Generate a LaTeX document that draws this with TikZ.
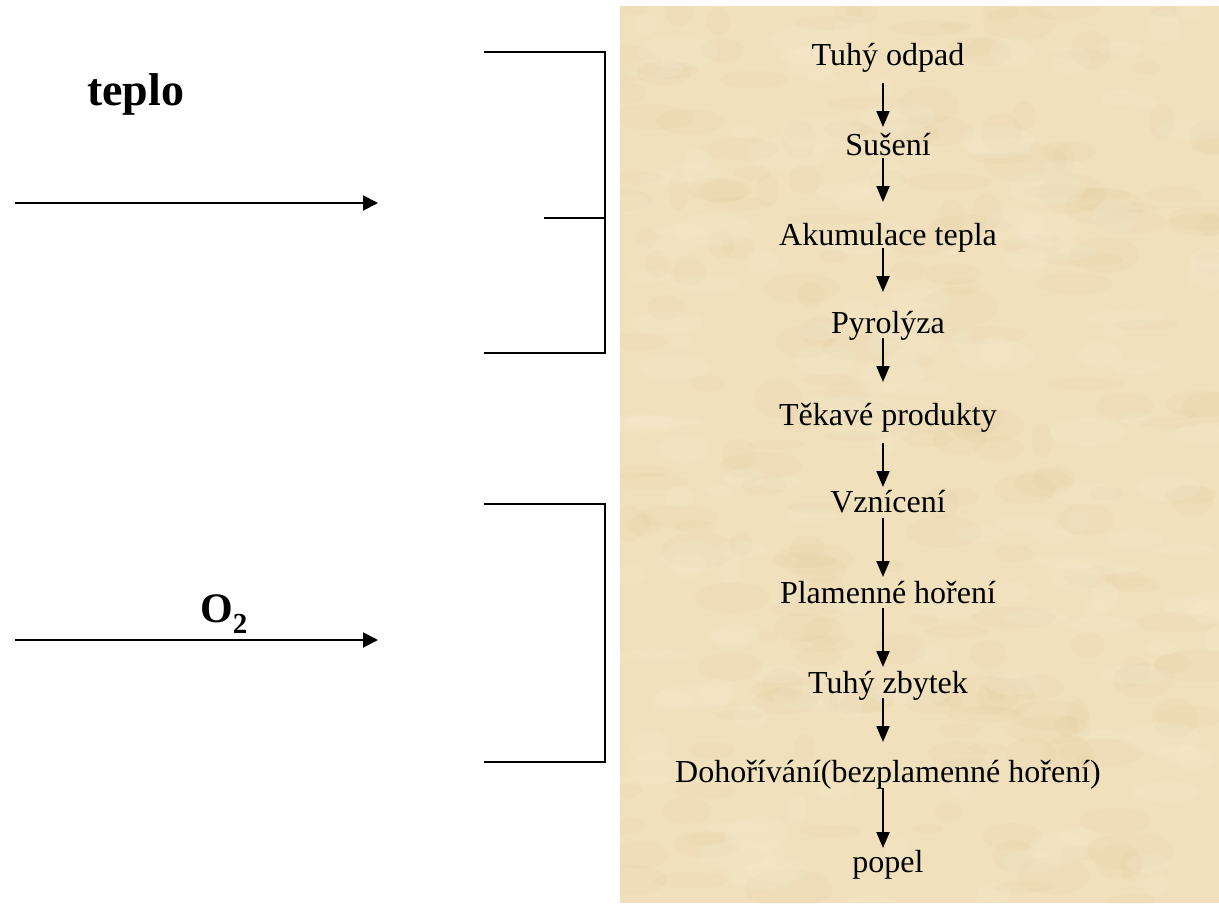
\documentclass[tikz,border=0pt]{standalone}
\usepackage{fontspec}
\setmainfont{Liberation Serif}
\usetikzlibrary{arrows.meta,calc}
\definecolor{parch}{RGB}{240,224,188}
\definecolor{parchdark}{RGB}{222,198,150}
\definecolor{parchlight}{RGB}{248,238,214}
\begin{document}
\begin{tikzpicture}[x=1pt,y=-1pt,
  flowtext/.style={anchor=base, inner sep=0pt, font=\fontsize{32}{36}\selectfont},
  flow/.style={line width=2pt, -{Triangle[length=16pt,width=13pt]}},
  feed/.style={line width=2pt, -{Triangle[length=15pt,width=15pt]}},
  bracketline/.style={line width=1.6pt},
  bigbold/.style={anchor=base west, inner sep=0pt, font=\bfseries\fontsize{46}{50}\selectfont}
]
\useasboundingbox (0,0) rectangle (1219,903);
\fill[white] (0,0) rectangle (1219,903);
% parchment panel
\fill[parch] (620,6) rectangle (1219,903);
\begin{scope}
  \clip (620,6) rectangle (1219,903);
  \pgfmathsetseed{11}
  \foreach \i in {1,...,220}{
    \pgfmathsetmacro{\px}{620+599*rnd}
    \pgfmathsetmacro{\py}{6+897*rnd}
    \pgfmathsetmacro{\rx}{10+35*rnd}
    \pgfmathsetmacro{\ry}{5+15*rnd}
    \fill[parchdark, opacity=0.10] (\px,\py) ellipse ({\rx} and {\ry});
  }
  \foreach \i in {1,...,160}{
    \pgfmathsetmacro{\px}{620+599*rnd}
    \pgfmathsetmacro{\py}{6+897*rnd}
    \pgfmathsetmacro{\rx}{10+30*rnd}
    \pgfmathsetmacro{\ry}{5+12*rnd}
    \fill[parchlight, opacity=0.18] (\px,\py) ellipse ({\rx} and {\ry});
  }
\end{scope}

% flow column
\coordinate (col) at (883,0);
\node[flowtext] (n1) at (888,65) {Tuhý odpad};
\node[flowtext] (n2) at (888,155) {Sušení};
\node[flowtext] (n3) at (888,245) {Akumulace tepla};
\node[flowtext] (n4) at (888,333) {Pyrolýza};
\node[flowtext] (n5) at (888,425) {Těkavé produkty};
\node[flowtext] (n6) at (888,512) {Vznícení};
\node[flowtext] (n7) at (888,603) {Plamenné hoření};
\node[flowtext] (n8) at (888,693) {Tuhý zbytek};
\node[flowtext] (n9) at (888,782) {Dohořívání(bezplamenné hoření)};
\node[flowtext] (n10) at (888,872) {popel};

\draw[flow] ($(n1.base -| col)+(0,18)$) -- ($(n2.base -| col)+(0,-28)$);
\draw[flow] ($(n2.base -| col)+(0,3)$) -- ($(n3.base -| col)+(0,-43)$);
\draw[flow] ($(n3.base -| col)+(0,3)$) -- ($(n4.base -| col)+(0,-41)$);
\draw[flow] ($(n4.base -| col)+(0,5)$) -- ($(n5.base -| col)+(0,-43)$);
\draw[flow] ($(n5.base -| col)+(0,18)$) -- ($(n6.base -| col)+(0,-25)$);
\draw[flow] ($(n6.base -| col)+(0,6)$) -- ($(n7.base -| col)+(0,-26)$);
\draw[flow] ($(n7.base -| col)+(0,5)$) -- ($(n8.base -| col)+(0,-26)$);
\draw[flow] ($(n8.base -| col)+(0,5)$) -- ($(n9.base -| col)+(0,-40)$);
\draw[flow] ($(n9.base -| col)+(0,6)$) -- ($(n10.base -| col)+(0,-24)$);

% left inputs
\node[bigbold] (teplo) at (87,105) {teplo};
\coordinate (h0) at (15,203);
\coordinate (h1) at (378,203);
\draw[feed] (h0) -- (h1);

\node[bigbold, font=\bfseries\fontsize{42}{48}\selectfont] (o2) at (200,622)
  {O\raisebox{-11pt}{\fontsize{29}{30}\selectfont 2}};
\coordinate (k0) at (15,640);
\coordinate (k1) at (378,640);
\draw[feed] (k0) -- (k1);

% brackets
\draw[bracketline] (484,52) -- (605,52) -- (605,353) -- (484,353);
\draw[bracketline] (544,218) -- (605,218);
\draw[bracketline] (484,504) -- (605,504) -- (605,762) -- (484,762);
\end{tikzpicture}
\end{document}
